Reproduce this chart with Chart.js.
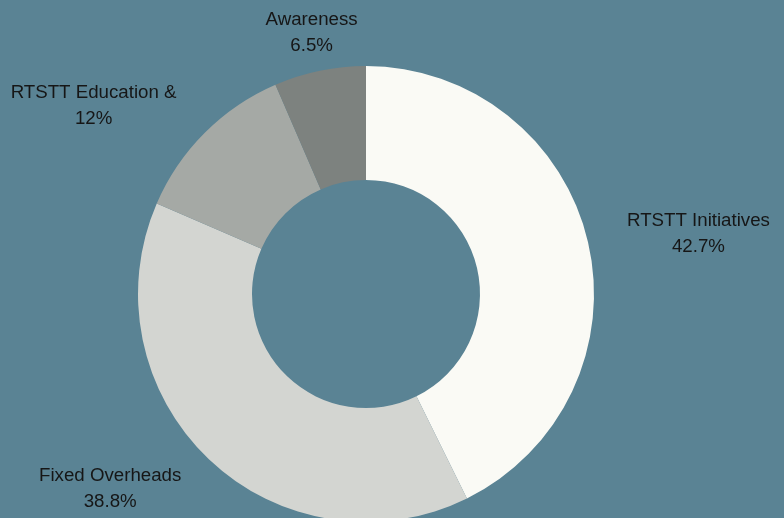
<!DOCTYPE html>
<html>
<head>
<meta charset="utf-8">
<script src="https://cdn.jsdelivr.net/npm/chart.js@4/dist/chart.umd.min.js"></script>
<style>
html,body{margin:0;padding:0;background:#5a8394;overflow:hidden;}
#wrap{position:absolute;left:0;top:0;width:784px;height:560px;}
</style>
</head>
<body>
<div id="wrap"><canvas id="c"></canvas></div>
<script>
const categories = ["RTSTT Initiatives", "Fixed Overheads", "RTSTT Education &", "Awareness"];
const values = [42.7, 38.8, 12, 6.5];
const valueLabels = ["42.7%", "38.8%", "12%", "6.5%"];
const colors = ["#fafaf5", "#d3d5d1", "#a5a9a5", "#7d827f"];

const outsideLabels = {
  id: 'outsideLabels',
  afterDatasetsDraw(chart) {
    const ctx = chart.ctx;
    const meta = chart.getDatasetMeta(0);
    ctx.save();
    ctx.font = '18.7px "Liberation Sans", Arial, sans-serif';
    ctx.fillStyle = '#161616';
    ctx.textBaseline = 'middle';
    const lh = 26;
    meta.data.forEach((arc, i) => {
      const p = arc.getProps(['x','y','startAngle','endAngle','outerRadius'], true);
      const mid = (p.startAngle + p.endAngle) / 2;
      const r = p.outerRadius + 40;
      const px = p.x + Math.cos(mid) * r;
      const py = p.y + Math.sin(mid) * r + 1;
      const lines = [categories[i], valueLabels[i]];
      const widths = lines.map(l => ctx.measureText(l).width);
      const bw = Math.max(...widths);
      let left;
      const c = Math.cos(mid);
      if (Math.abs(c) < 0.3) left = px - bw / 2;
      else if (c > 0) left = px;
      else left = px - bw;
      const top = py - (lines.length * lh) / 2 + lh / 2;
      lines.forEach((l, k) => {
        ctx.textAlign = 'left';
        ctx.fillText(l, left + (bw - widths[k]) / 2, top + k * lh);
      });
    });
    ctx.restore();
  }
};

new Chart(document.getElementById('c'), {
  type: 'doughnut',
  data: {
    labels: categories,
    datasets: [{
      data: values,
      backgroundColor: colors,
      borderWidth: 0,
      hoverOffset: 0
    }]
  },
  options: {
    responsive: true,
    maintainAspectRatio: false,
    animation: false,
    cutout: '50%',
    layout: { padding: { left: 0, right: 52, top: 66, bottom: 38 } },
    plugins: { legend: { display: false }, tooltip: { enabled: false } }
  },
  plugins: [outsideLabels]
});
</script>
</body>
</html>
